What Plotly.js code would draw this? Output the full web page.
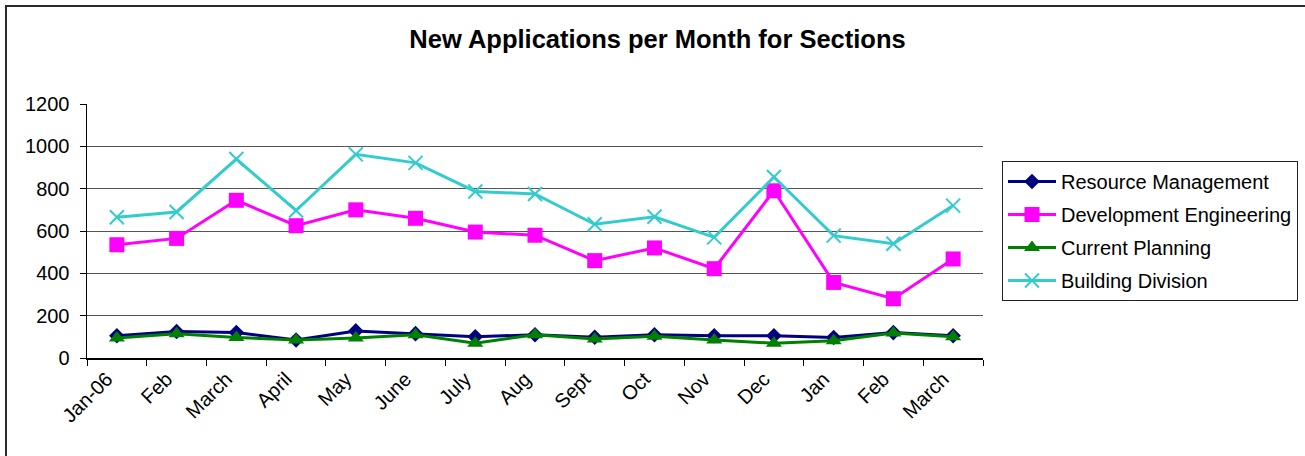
<!DOCTYPE html>
<html>
<head>
<meta charset="utf-8">
<script src="https://cdn.plot.ly/plotly-3.0.1.min.js"></script>
<style>
  html, body { margin: 0; padding: 0; background: #fff; }
  #frame { position: absolute; left: 5px; top: 5px; width: 1300px; height: 451px;
           border-top: 2px solid #2a2a2a; border-left: 2px solid #2a2a2a; box-sizing: border-box; }
  #chart { position: absolute; left: 0; top: 0; width: 1305px; height: 456px; }
</style>
</head>
<body>
<div id="frame"></div>
<div id="chart"></div>
<script>
// ---- data ----
const monthLabels = ['Jan-06','Feb','March','April','May','June','July','Aug','Sept','Oct','Nov','Dec','Jan','Feb','March'];
const resourceManagement    = [105,125,120,85,128,115,100,110,98,110,105,105,97,120,105];
const developmentEngineering = [535,565,745,625,700,660,595,580,460,520,422,790,357,280,468];
const currentPlanning       = [95,115,97,85,95,110,70,110,90,103,85,70,82,118,100];
const buildingDivision      = [665,690,940,697,962,922,787,775,632,667,570,855,578,540,720];
const yTickValues = [0,200,400,600,800,1000,1200];

// unique category keys for repeated month names (zero-width spaces)
const seen = {};
const categories = monthLabels.map(l => {
  seen[l] = (seen[l] || 0) + 1;
  return l + '\u200b'.repeat(seen[l] - 1);
});

const FONT = 'Liberation Sans, Arial, sans-serif';

function series(name, y, color, symbol, size, extra) {
  return Object.assign({
    type: 'scatter', mode: 'lines+markers', name: name, legendgroup: name,
    x: categories, y: y,
    line: { color: color, width: 3 },
    marker: Object.assign({ color: color, symbol: symbol, size: size, line: { width: 0 } }, extra || {})
  });
}

const traces = [
  series('Resource Management', resourceManagement, '#000080', 'diamond', 12),
  series('Development Engineering', developmentEngineering, '#FF00FF', 'square', 15),
  series('Current Planning', currentPlanning, '#008000', 'triangle-up', 14),
  series('Building Division', buildingDivision, '#33CCCC', 'x-thin-open', 14, { line: { width: 2, color: '#33CCCC' } })
];

const layout = {
  width: 1305, height: 456,
  paper_bgcolor: 'rgba(0,0,0,0)', plot_bgcolor: 'rgba(0,0,0,0)',
  margin: { l: 87, r: 322, t: 104, b: 98, pad: 0, autoexpand: false },
  font: { family: FONT, color: '#000', size: 20 },
  title: {
    text: 'New Applications per Month for Sections',
    font: { family: FONT, size: 25.5, weight: 'bold', color: '#000' },
    xref: 'container', yref: 'container', x: 657.5 / 1305, xanchor: 'center',
    y: 1 - 39 / 456, yanchor: 'middle'
  },
  xaxis: {
    type: 'category', range: [-0.5, 14.5], tickson: 'boundaries',
    ticks: 'outside', ticklen: 6, tickcolor: '#000', tickwidth: 1,
    tickangle: -45, tickfont: { size: 20, family: FONT },
    ticklabelshift: -10,
    showline: true, linecolor: '#000', linewidth: 1.5,
    showgrid: false, zeroline: false, fixedrange: true, automargin: false
  },
  yaxis: {
    range: [0, 1200], tickmode: 'array', tickvals: yTickValues,
    ticks: 'outside', ticklen: 6, tickcolor: '#000', tickwidth: 1,
    ticklabelstandoff: 6,
    tickfont: { size: 20, family: FONT },
    showline: true, linecolor: '#000', linewidth: 1.5,
    showgrid: true, gridcolor: '#555', gridwidth: 1,
    zeroline: false, fixedrange: true, automargin: false
  },
  showlegend: true,
  legend: {
    xref: 'container', yref: 'container',
    x: 1002 / 1305, y: 1 - 161 / 456, xanchor: 'left', yanchor: 'top',
    bordercolor: '#222', borderwidth: 1, bgcolor: '#fff',
    font: { size: 20, family: FONT, color: '#000' },
    tracegroupgap: 4, itemwidth: 48, traceorder: 'grouped'
  }
};

Plotly.newPlot('chart', traces, layout, { displayModeBar: false, staticPlot: true });
</script>
</body>
</html>
